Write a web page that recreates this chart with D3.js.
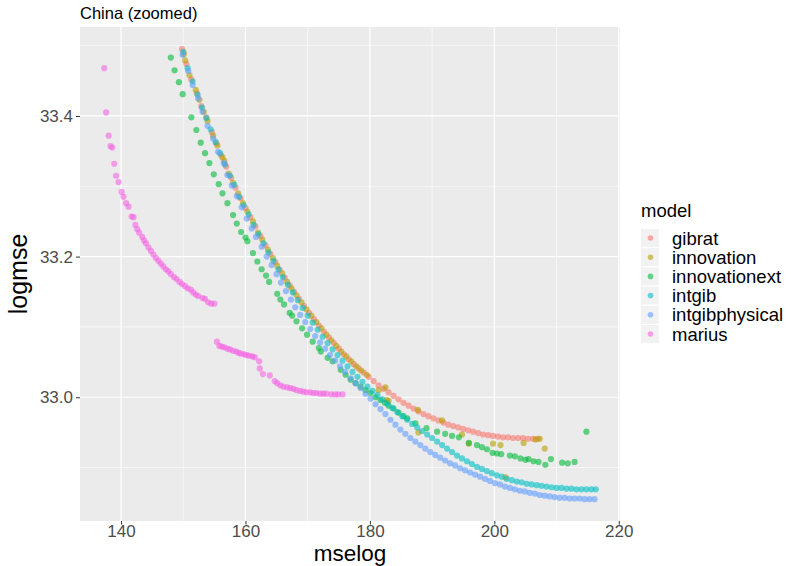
<!DOCTYPE html>
<html>
<head>
<meta charset="utf-8">
<script src="https://cdn.jsdelivr.net/npm/d3@7"></script>
<style>
  body { margin: 0; background: #fff; }
  text { font-family: "Liberation Sans", Arial, sans-serif; }
</style>
</head>
<body>
<svg id="chart" width="791" height="566"></svg>
<script>
// values: [mselog, logmse]
const models = ["gibrat", "innovation", "innovationext", "intgib", "intgibphysical", "marius"];
const colors = ["#F8766D", "#B79F00", "#00BA38", "#00BFC4", "#619CFF", "#F564E3"];
const xTicks = [140, 160, 180, 200, 220];
const yTicks = [33.0, 33.2, 33.4];

const gibrat = [
  [149.8,33.495],[150.5,33.474],[151.3,33.452],[152.2,33.432],[152.9,33.414],[153.7,33.398],
  [154.6,33.377],[155.3,33.361],[156.1,33.344],[156.9,33.328],[157.7,33.312],[158.4,33.298],
  [159.2,33.283],[160.0,33.269],[160.8,33.256],[161.6,33.243],[162.4,33.229],[163.2,33.216],
  [164.0,33.204],[164.8,33.192],[165.5,33.181],[166.3,33.170],[167.1,33.159],[167.8,33.150],
  [168.6,33.140],[169.4,33.130],[170.2,33.120],[171.0,33.111],[171.8,33.102],[172.6,33.093],
  [173.4,33.085],[174.2,33.077],[175.0,33.069],[175.8,33.061],[176.6,33.054],[177.4,33.047],
  [178.2,33.041],[179.0,33.035],[179.8,33.029],[180.6,33.023],[181.4,33.017],[182.2,33.012],
  [183.0,33.007],[183.8,33.002],[184.6,32.997],[185.4,32.992],[186.2,32.988],[187.0,32.984],
  [187.8,32.980],[188.6,32.976],[189.4,32.973],[190.2,32.970],[191.0,32.967],[191.8,32.964],
  [192.6,32.961],[193.4,32.959],[194.2,32.957],[195.0,32.955],[195.8,32.953],[196.6,32.951],
  [197.4,32.949],[198.2,32.947],[199.0,32.946],[199.8,32.945],[200.6,32.944],[201.4,32.943],
  [202.2,32.943],[203.0,32.942],[203.8,32.942],[204.6,32.942],[205.4,32.941],[206.2,32.941],
  [207.0,32.941]
];

const innovation = [
  [150.1,33.488],[150.3,33.479],[151.0,33.458],[152.0,33.437],[152.6,33.423],[153.3,33.406],
  [153.9,33.393],[154.8,33.372],[155.5,33.358],[156.3,33.341],[156.6,33.336],[157.3,33.318],
  [158.0,33.305],[158.8,33.290],[159.6,33.276],[160.3,33.264],[161.2,33.250],[162.0,33.234],
  [162.7,33.224],[163.6,33.210],[164.4,33.198],[165.1,33.187],[165.9,33.176],[166.7,33.164],
  [167.4,33.155],[168.2,33.145],[169.0,33.135],[169.8,33.125],[170.6,33.116],[171.4,33.107],
  [172.2,33.098],[173.0,33.089],[173.8,33.081],[174.6,33.073],[175.4,33.065],[176.2,33.058],
  [177.0,33.051],[177.8,33.044],[178.6,33.038],[179.5,33.032],[181.4,33.010],[182.5,33.014],
  [182.7,32.996],[183.0,32.995],[187.7,32.982],[187.8,32.950],[191.6,32.967],[194.8,32.947],
  [195.9,32.934],[199.8,32.934],[201.0,32.932],[201.8,32.886],[204.7,32.935],[206.6,32.940],
  [207.3,32.941],[208.1,32.927]
];

const innovationext = [
  [148.0,33.483],[148.6,33.465],[149.3,33.448],[149.9,33.431],[151.3,33.398],[152.1,33.380],
  [152.8,33.362],[153.5,33.347],[154.2,33.333],[154.9,33.317],[155.7,33.303],[156.3,33.290],
  [157.1,33.276],[158.0,33.259],[158.6,33.247],[159.3,33.235],[160.0,33.227],[160.3,33.222],
  [161.2,33.205],[161.9,33.193],[162.6,33.182],[163.3,33.173],[163.8,33.164],[165.1,33.147],
  [165.6,33.139],[166.2,33.132],[167.1,33.120],[167.5,33.116],[168.2,33.108],[169.1,33.098],
  [169.9,33.089],[170.8,33.079],[171.8,33.070],[172.1,33.065],[173.2,33.056],[174.0,33.051],
  [175.3,33.039],[176.1,33.032],[176.9,33.025],[177.7,33.020],[178.5,33.015],[179.3,33.010],
  [180.1,33.006],[180.9,33.000],[181.7,32.996],[182.4,32.992],[183.0,32.988],[183.8,32.984],
  [184.6,32.978],[185.4,32.973],[186.0,32.970],[187.3,32.963],[189.1,32.956],[190.8,32.951],
  [192.1,32.948],[193.2,32.945],[194.3,32.943],[195.9,32.935],[197.2,32.932],[198.0,32.929],
  [198.8,32.926],[199.7,32.921],[200.4,32.920],[201.1,32.919],[202.5,32.917],[203.3,32.916],
  [204.2,32.913],[205.0,32.911],[205.5,32.912],[206.3,32.909],[207.1,32.908],[208.2,32.904],
  [209.1,32.912],[210.9,32.907],[211.8,32.906],[212.9,32.908],[214.8,32.951]
];

const intgib = [
  [150.0,33.491],[150.7,33.468],[151.5,33.449],[152.3,33.430],[153.0,33.412],[153.7,33.397],
  [154.4,33.381],[155.2,33.363],[155.9,33.347],[156.7,33.331],[157.5,33.315],[158.2,33.302],
  [159.0,33.285],[159.7,33.273],[160.5,33.260],[161.3,33.245],[162.1,33.232],[162.9,33.219],
  [163.7,33.206],[164.5,33.194],[165.3,33.182],[166.0,33.171],[166.8,33.160],[167.6,33.149],
  [168.4,33.138],[169.2,33.127],[170.0,33.116],[170.8,33.106],[171.6,33.096],[172.4,33.086],
  [173.2,33.077],[174.0,33.068],[174.8,33.060],[175.6,33.052],[176.4,33.044],[177.2,33.036],
  [178.0,33.029],[178.8,33.022],[179.6,33.015],[180.4,33.009],[181.2,33.003],[182.0,32.997],
  [182.8,32.991],[183.6,32.985],[184.4,32.979],[185.2,32.973],[186.0,32.968],[186.8,32.962],
  [187.6,32.957],[188.4,32.952],[189.2,32.947],[190.0,32.942],[190.8,32.937],[191.6,32.932],
  [192.4,32.927],[193.2,32.922],[194.0,32.917],[194.8,32.913],[195.6,32.909],[196.4,32.905],
  [197.2,32.901],[198.0,32.898],[198.8,32.895],[199.6,32.892],[200.4,32.889],[201.2,32.887],
  [202.0,32.884],[202.8,32.882],[203.6,32.880],[204.4,32.879],[205.2,32.877],[206.0,32.876],
  [206.8,32.875],[207.6,32.874],[208.4,32.873],[209.2,32.872],[210.0,32.871],[210.8,32.871],
  [211.6,32.870],[212.4,32.870],[213.2,32.869],[214.0,32.869],[214.8,32.869],[215.6,32.869],
  [216.3,32.869]
];

const intgibphysical = [
  [149.9,33.487],[150.8,33.464],[151.5,33.444],[152.4,33.425],[153.1,33.406],[153.9,33.386],
  [154.8,33.368],[155.6,33.349],[156.5,33.333],[157.1,33.316],[157.8,33.301],[158.6,33.286],
  [159.4,33.270],[160.2,33.254],[161.0,33.240],[161.7,33.228],[162.6,33.214],[163.4,33.200],
  [164.2,33.188],[165.0,33.175],[165.7,33.163],[166.5,33.151],[167.3,33.139],[168.0,33.128],
  [168.8,33.117],[169.6,33.107],[170.4,33.097],[171.2,33.087],[172.0,33.078],[172.8,33.069],
  [173.6,33.060],[174.4,33.052],[175.2,33.044],[176.0,33.036],[176.9,33.027],[177.7,33.020],
  [178.5,33.013],[179.3,33.005],[180.1,32.998],[180.9,32.990],[181.7,32.983],[182.5,32.976],
  [183.3,32.968],[184.1,32.961],[184.9,32.954],[185.7,32.948],[186.5,32.942],[187.3,32.937],
  [188.1,32.932],[188.9,32.927],[189.7,32.922],[190.5,32.918],[191.3,32.914],[192.1,32.910],
  [192.9,32.906],[193.7,32.903],[194.5,32.899],[195.3,32.896],[196.1,32.893],[196.9,32.890],
  [197.7,32.887],[198.5,32.884],[199.3,32.881],[200.1,32.878],[200.9,32.876],[201.7,32.873],
  [202.5,32.871],[203.3,32.869],[204.1,32.867],[204.9,32.866],[205.7,32.864],[206.5,32.863],
  [207.3,32.861],[208.1,32.860],[208.9,32.859],[209.7,32.858],[210.5,32.857],[211.3,32.857],
  [212.1,32.856],[212.9,32.856],[213.7,32.856],[214.5,32.855],[215.3,32.855],[216.1,32.855]
];

const marius = [
  [137.3,33.468],[137.6,33.405],[138.0,33.372],[138.3,33.357],[138.6,33.355],[138.9,33.332],
  [139.2,33.315],[139.6,33.306],[140.1,33.292],[140.4,33.285],[140.8,33.276],[141.2,33.271],
  [141.7,33.257],[142.0,33.256],[142.3,33.245],[142.6,33.239],[142.9,33.234],[143.4,33.228],
  [143.7,33.223],[144.0,33.219],[144.4,33.213],[144.8,33.208],[145.2,33.203],[145.6,33.198],
  [146.0,33.194],[146.4,33.190],[146.8,33.186],[147.2,33.182],[147.6,33.179],[148.0,33.175],
  [148.5,33.171],[148.9,33.168],[149.4,33.164],[149.8,33.161],[150.3,33.158],[150.7,33.155],
  [151.2,33.153],[151.6,33.149],[152.0,33.146],[152.4,33.144],[153.1,33.141],[153.5,33.140],
  [154.0,33.135],[154.5,33.133],[155.0,33.133],
  [155.4,33.079],[155.8,33.073],[156.2,33.072],[156.6,33.071],[157.1,33.069],[157.5,33.068],
  [158.0,33.066],[158.5,33.065],[158.9,33.063],[159.3,33.062],[159.8,33.061],[160.2,33.060],
  [160.6,33.059],[161.1,33.058],[161.5,33.057],[162.2,33.051],[162.3,33.041],[162.8,33.033],
  [163.9,33.031],[164.7,33.023],[165.1,33.020],[165.6,33.017],[166.1,33.015],[166.7,33.014],
  [167.2,33.013],[167.7,33.012],[168.2,33.010],[168.8,33.009],[169.3,33.008],[169.8,33.007],
  [170.4,33.007],[170.9,33.006],[171.4,33.006],[172.0,33.005],[172.5,33.005],[173.0,33.005],
  [173.8,33.004],[174.4,33.004],[174.9,33.004],[175.6,33.004]
];

const seriesData = [gibrat, innovation, innovationext, intgib, intgibphysical, marius];

const svg = d3.select("#chart");
const panel = { left: 80, right: 620, top: 27, bottom: 521 };

const x = d3.scaleLinear().domain([133.4, 220.2]).range([panel.left, panel.right]);
const y = d3.scaleLinear().domain([32.824, 33.5265]).range([panel.bottom, panel.top]);
const color = d3.scaleOrdinal().domain(models).range(colors);

// panel background + grid
svg.append("rect")
  .attr("x", panel.left).attr("y", panel.top)
  .attr("width", panel.right - panel.left).attr("height", panel.bottom - panel.top)
  .attr("fill", "#EBEBEB");

const xMinor = [150, 170, 190, 210];
const yMinor = [32.9, 33.1, 33.3, 33.5];
const grid = svg.append("g");
grid.selectAll(".xminor").data(xMinor).enter().append("line")
  .attr("x1", d => x(d)).attr("x2", d => x(d)).attr("y1", panel.top).attr("y2", panel.bottom)
  .attr("stroke", "#fff").attr("stroke-width", 0.6);
grid.selectAll(".yminor").data(yMinor).enter().append("line")
  .attr("y1", d => y(d)).attr("y2", d => y(d)).attr("x1", panel.left).attr("x2", panel.right)
  .attr("stroke", "#fff").attr("stroke-width", 0.6);
grid.selectAll(".xmajor").data(xTicks).enter().append("line")
  .attr("x1", d => x(d)).attr("x2", d => x(d)).attr("y1", panel.top).attr("y2", panel.bottom)
  .attr("stroke", "#fff").attr("stroke-width", 1.2);
grid.selectAll(".ymajor").data(yTicks).enter().append("line")
  .attr("y1", d => y(d)).attr("y2", d => y(d)).attr("x1", panel.left).attr("x2", panel.right)
  .attr("stroke", "#fff").attr("stroke-width", 1.2);

// points
models.forEach(function(m, i) {
  svg.append("g").selectAll("circle")
    .data(seriesData[i]).enter().append("circle")
    .attr("cx", d => x(d[0]))
    .attr("cy", d => y(d[1]))
    .attr("r", 3.1)
    .attr("fill", color(m))
    .attr("fill-opacity", 0.6);
});

// axes
const xAxis = svg.append("g")
  .attr("transform", "translate(0," + panel.bottom + ")")
  .call(d3.axisBottom(x).tickValues(xTicks).tickSize(3.5).tickPadding(0).tickFormat(d3.format("d")));
const yAxis = svg.append("g")
  .attr("transform", "translate(" + panel.left + ",0)")
  .call(d3.axisLeft(y).tickValues(yTicks).tickSize(4).tickPadding(3).tickFormat(d3.format(".1f")));

[xAxis, yAxis].forEach(function(a) {
  a.select(".domain").remove();
  a.selectAll(".tick line").attr("stroke", "#333333").attr("stroke-width", 1);
  a.selectAll(".tick text")
    .attr("fill", "#4D4D4D")
    .style("font-size", "17px")
    .style("font-family", "'Liberation Sans', Arial, sans-serif");
});

// titles
svg.append("text")
  .attr("x", panel.left).attr("y", 19)
  .style("font-size", "16.5px")
  .text("China (zoomed)");

svg.append("text")
  .attr("x", (panel.left + panel.right) / 2).attr("y", 561)
  .attr("text-anchor", "middle")
  .style("font-size", "22.5px")
  .text("mselog");

svg.append("text")
  .attr("transform", "translate(27," + (panel.top + panel.bottom) / 2 + ") rotate(-90)")
  .attr("text-anchor", "middle")
  .style("font-size", "25px")
  .text("logmse");

// legend
const legend = svg.append("g").attr("transform", "translate(641,0)");
legend.append("text")
  .attr("x", 0).attr("y", 217)
  .style("font-size", "18.5px")
  .text("model");

const rows = legend.selectAll(".key").data(models).enter().append("g")
  .attr("transform", (d, i) => "translate(0," + (229 + i * 19.2) + ")");
rows.append("rect")
  .attr("width", 18).attr("height", 18)
  .attr("fill", "#F2F2F2");
rows.append("circle")
  .attr("cx", 9.5).attr("cy", 9)
  .attr("r", 2.8)
  .attr("fill", d => color(d))
  .attr("fill-opacity", 0.6);
rows.append("text")
  .attr("x", 31).attr("y", 15.5)
  .style("font-size", "18.5px")
  .text(d => d);
</script>
</body>
</html>
